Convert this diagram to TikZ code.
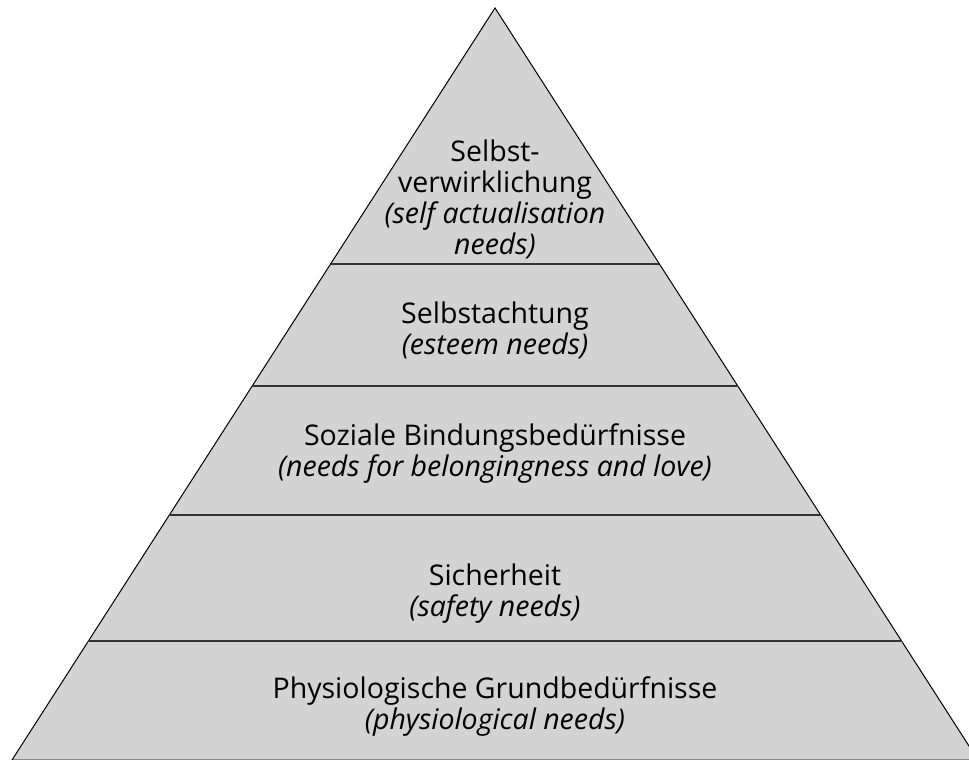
\documentclass[tikz,border=0pt]{standalone}
\usepackage{fontspec}
\setmainfont{Open Sans}
\usepackage{tikz}
\usetikzlibrary{calc}
\definecolor{PyramidGray}{RGB}{211,211,211}
\definecolor{LayerLine}{RGB}{51,51,51}
\tikzset{
  level/.style={align=center,font=\fontsize{28.5}{31}\selectfont,inner sep=0pt},
  layerline/.style={line width=1.4pt,LayerLine}
}
\begin{document}
\begin{tikzpicture}[x=1pt,y=-1pt]
  \useasboundingbox (0,0) rectangle (969,760);
  \coordinate (apex) at (495,8);
  \coordinate (bl) at (12,760);
  \coordinate (br) at (978,760);
  \draw[fill=PyramidGray,line width=1pt] (bl)--(apex)--(br)--cycle;
  % borders between the levels
  \foreach \f/\n in {0.3404/a,0.5027/b,0.6742/c,0.8418/d}{
    \coordinate (l\n) at ($(apex)!\f!(bl)$);
    \coordinate (r\n) at ($(apex)!\f!(br)$);
    \draw[layerline] (l\n)--(r\n);
  }
  \node[level] (self) at (495,199) {Selbst-\\verwirklichung\\\itshape(self actualisation\\\itshape needs)};
  \node[level] (esteem) at (495,330) {Selbstachtung\\\itshape(esteem needs)};
  \node[level] (social) at (495,454) {Soziale Bindungsbed\"urfnisse\\\itshape(needs for belongingness and love)};
  \node[level] (safety) at (495,594) {Sicherheit\\\itshape(safety needs)};
  \node[level] (physio) at (495,707) {Physiologische Grundbed\"urfnisse\\\itshape(physiological needs)};
\end{tikzpicture}
\end{document}
